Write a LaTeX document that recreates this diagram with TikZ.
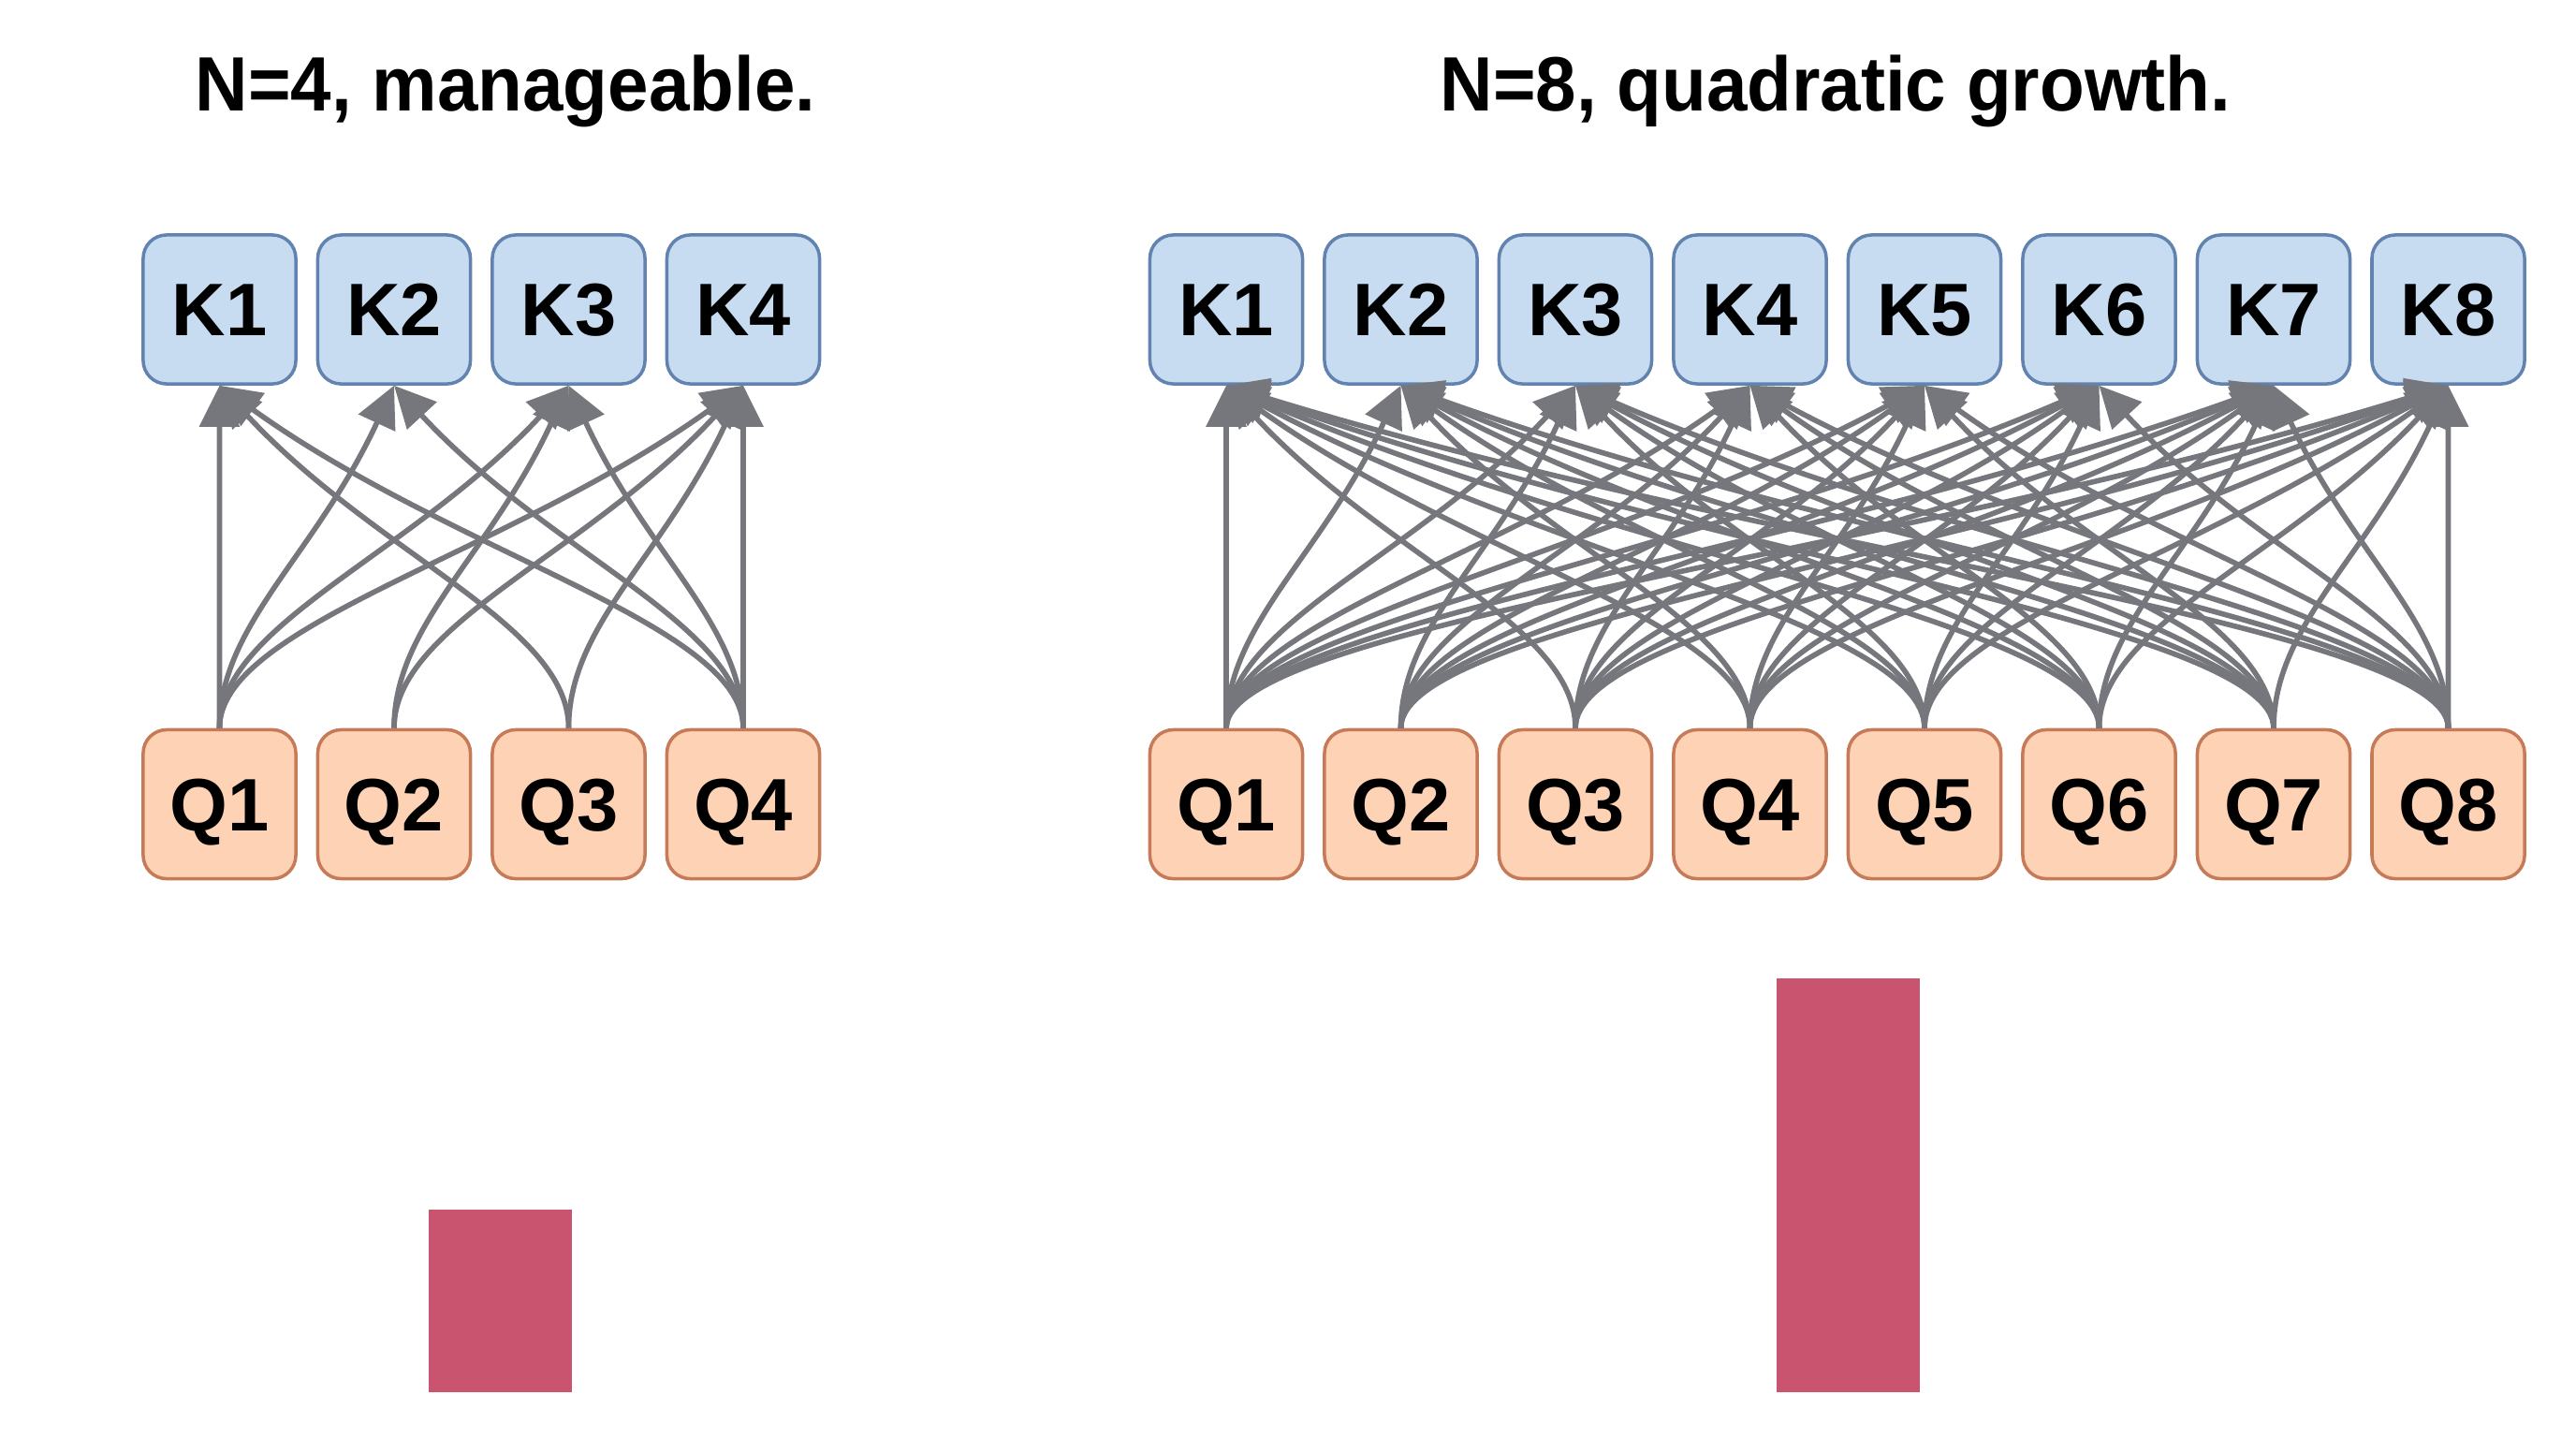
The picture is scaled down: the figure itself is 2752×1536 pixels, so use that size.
\documentclass[tikz,border=0pt]{standalone}
\usepackage{fontspec}
\setmainfont{Liberation Sans}
\usetikzlibrary{arrows.meta,calc}
\definecolor{kfill}{RGB}{200,220,241}
\definecolor{kdraw}{RGB}{98,131,176}
\definecolor{qfill}{RGB}{253,210,181}
\definecolor{qdraw}{RGB}{198,122,88}
\definecolor{edgegray}{RGB}{118,119,124}
\definecolor{barred}{RGB}{200,84,112}
\begin{document}
\begin{tikzpicture}[x=0.01cm,y=-0.01cm,
  box/.style={rectangle, rounded corners=0.25cm, minimum width=1.63cm, minimum height=1.59cm,
    inner sep=0pt, line width=1pt, font=\fontsize{22.6pt}{24pt}\selectfont\bfseries,
    text height=16.2pt, text depth=0pt},
  kbox/.style={box, fill=kfill, draw=kdraw},
  qbox/.style={box, fill=qfill, draw=qdraw},
  edge/.style={draw=edgegray, line width=1.6pt, -{Triangle[length=12.5pt,width=12pt]}},
  title/.style={font=\fontsize{23.4pt}{26pt}\selectfont\bfseries, anchor=base, inner sep=0pt}]
\fill[white] (0,0) rectangle (2752,1536);
\useasboundingbox (0,0) rectangle (2752,1536);

% titles
\node[title] (t1) at (540,118) {\scalebox{0.95}[1]{N=4, manageable.}};
\node[title] (t2) at (1961,118) {\scalebox{0.95}[1]{N=8, quadratic growth.}};

% left panel nodes
\foreach \i in {1,...,4}{
  \node[kbox] (lk\i) at ({234.5+186.5*(\i-1)},330.5) {K\i};
  \node[qbox] (lq\i) at ({234.5+186.5*(\i-1)},859) {Q\i};
}
% right panel nodes
\foreach \i in {1,...,8}{
  \node[kbox] (rk\i) at ({1310+186.5*(\i-1)},330.5) {K\i};
  \node[qbox] (rq\i) at ({1310+186.5*(\i-1)},859) {Q\i};
}

% left panel edges
\foreach \q/\k in {1/1,1/2,1/3,1/4,2/3,2/4,3/1,3/4,4/1,4/2,4/3,4/4}{
  \draw[edge] (lq\q.north) .. controls ($(lq\q.north)+(0,-110.7)$)
    and ($(lq\q.north)!0.55!(lk\k.south|-lq\q.north)+(0,-184.5)$) .. (lk\k.south);
}
% right panel edges
\foreach \q in {1,...,8}{
  \foreach \k in {1,...,8}{
    \pgfmathtruncatemacro\ok{((\q==1)||(\q==8)||((\k!=\q)&&(\k!=\q-1)))?1:0}
    \ifnum\ok=1
      \draw[edge] (rq\q.north) .. controls ($(rq\q.north)+(0,-110.7)$)
        and ($(rq\q.north)!0.55!(rk\k.south|-rq\q.north)+(0,-184.5)$) .. (rk\k.south);
    \fi
  }
}

% bars
\fill[barred] (458,1292) rectangle (611,1487);
\fill[barred] (1898,1045) rectangle (2051,1487);
\end{tikzpicture}
\end{document}
